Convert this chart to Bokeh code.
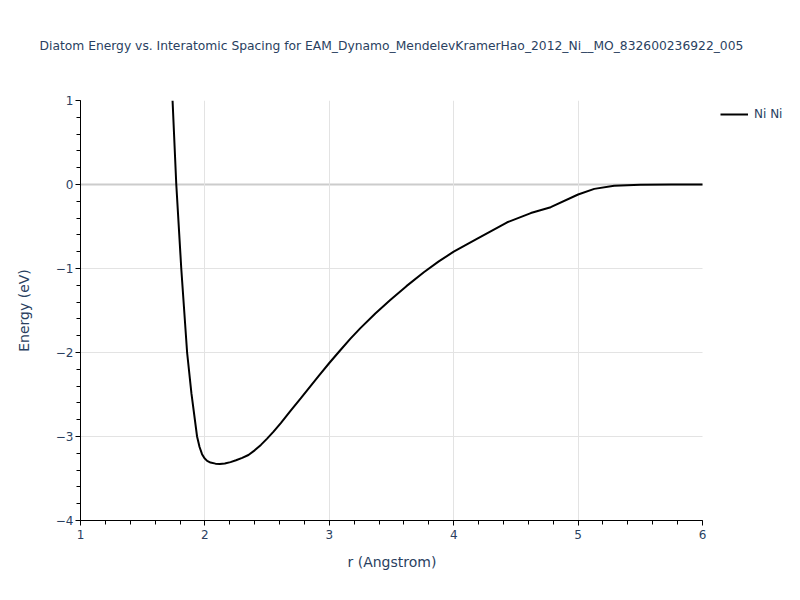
from bokeh.plotting import figure
from bokeh.models import Legend, LegendItem, CustomJSTickFormatter, FixedTicker, Title
from bokeh.embed import file_html
from bokeh.resources import INLINE

title_text = "Diatom Energy vs. Interatomic Spacing for EAM_Dynamo_MendelevKramerHao_2012_Ni__MO_832600236922_005"
series_name = "Ni Ni"
x_label = "r (Angstrom)"
y_label = "Energy (eV)"

r_vals = [1.74, 1.77, 1.81, 1.857, 1.892, 1.937, 1.957, 1.977, 1.997, 2.018, 2.045, 2.085,
          2.12, 2.16, 2.206, 2.25, 2.30, 2.35, 2.40, 2.45, 2.50, 2.55, 2.61, 2.688, 2.77,
          2.849, 2.92, 3.00, 3.09, 3.17, 3.25, 3.37, 3.49, 3.62, 3.76, 3.88, 4.00,
          4.19, 4.43, 4.62, 4.78, 5.00, 5.13, 5.29, 5.50, 5.75, 6.00]
e_vals = [1.00, 0.00, -1.00, -2.00, -2.49, -3.00, -3.125, -3.21, -3.26, -3.29, -3.31, -3.323,
          -3.328, -3.322, -3.305, -3.283, -3.255, -3.22, -3.165, -3.10, -3.025, -2.945, -2.84, -2.695, -2.545,
          -2.40, -2.27, -2.125, -1.97, -1.835, -1.71, -1.535, -1.375, -1.21, -1.045, -0.915, -0.80,
          -0.645, -0.45, -0.34, -0.27, -0.119, -0.052, -0.016, -0.004, -0.001, 0.0]

x_ticks = [1, 2, 3, 4, 5, 6]
y_ticks = [-4, -3, -2, -1, 0, 1]
x_min, x_max = x_ticks[0], x_ticks[-1]
y_min, y_max = y_ticks[0], y_ticks[-1]

TEXT = "#2a3f5f"
FONT = "DejaVu Sans"

# plot area 622 px for x 1..6; the frame runs on to the canvas edge to make room for the legend
W, H = 792, 592
LEFT, TOP, BOTTOM = 80, 100, 72
AREA_W = 622
x_end = x_min + (W - LEFT) * (x_max - x_min) / AREA_W

p = figure(width=W, height=H, output_backend="svg", toolbar_location=None, title=None,
           x_range=(x_min, x_end), y_range=(y_min, y_max),
           min_border_left=LEFT, min_border_right=0, min_border_top=TOP, min_border_bottom=BOTTOM)
p.outline_line_color = None
p.background_fill_color = "white"

# spacer title (nearest the frame), then the real title
p.add_layout(Title(text=" ", text_font_size="2px", standoff=44), "above")
p.add_layout(Title(text=title_text, align="left", offset=-41, standoff=0,
                   text_font=FONT, text_font_size="12.3px", text_font_style="normal",
                   text_color=TEXT), "above")

fmt = CustomJSTickFormatter(code="return tick < 0 ? '\\u2212' + Math.abs(tick) : tick.toString();")

for ax, ticks in ((p.xaxis[0], x_ticks), (p.yaxis[0], y_ticks)):
    lo, hi = ticks[0], ticks[-1]
    ax.ticker = FixedTicker(ticks=ticks,
                            minor_ticks=[lo + i * 0.2 for i in range(int(round((hi - lo) / 0.2)) + 1)])
    ax.bounds = (lo, hi)
    ax.formatter = fmt
    ax.axis_line_color = "black"
    ax.axis_line_width = 1
    ax.major_tick_line_color = "black"
    ax.minor_tick_line_color = "black"
    ax.major_tick_in = 0
    ax.major_tick_out = 5
    ax.minor_tick_in = 0
    ax.minor_tick_out = 4
    ax.major_label_text_font = FONT
    ax.major_label_text_font_size = "12px"
    ax.major_label_text_color = TEXT
    ax.axis_label_text_font = FONT
    ax.axis_label_text_font_size = "14px"
    ax.axis_label_text_font_style = "normal"
    ax.axis_label_text_color = TEXT

p.xaxis.major_label_standoff = 4
p.yaxis.axis_label = y_label
p.yaxis.major_label_standoff = 2
p.yaxis.axis_label_standoff = 21

# x axis title, centred under the 1..6 plot area
p.add_layout(Title(text=x_label, align="left", offset=267, standoff=24, vertical_align="top",
                   text_font=FONT, text_font_size="14px", text_font_style="normal",
                   text_color=TEXT), "below")

p.xgrid.ticker = FixedTicker(ticks=[t for t in x_ticks if x_min < t < x_max])
p.xgrid.grid_line_color = "#e3e3e3"
p.xgrid.grid_line_width = 1
p.ygrid.visible = False

# horizontal grid lines limited to the x range 1..6
gy = [t for t in y_ticks if y_min < t < y_max and t != 0]
p.segment(x0=[x_min] * len(gy), x1=[x_max] * len(gy), y0=gy, y1=gy,
          line_color="#e3e3e3", line_width=1, level="underlay")
p.segment(x0=[x_min], x1=[x_max], y0=[0], y1=[0],
          line_color="#cccccc", line_width=2, level="underlay")

line = p.line(r_vals, e_vals, line_color="black", line_width=2)

legend = Legend(items=[LegendItem(label=series_name, renderers=[line])],
                location=(640, 398), padding=0, margin=0, border_line_color=None,
                background_fill_alpha=0, glyph_width=28, glyph_height=16,
                label_height=16, label_standoff=6,
                label_text_font=FONT, label_text_font_size="12px", label_text_color=TEXT)
p.add_layout(legend, "center")

open("out.html", "w").write(file_html(p, INLINE))
